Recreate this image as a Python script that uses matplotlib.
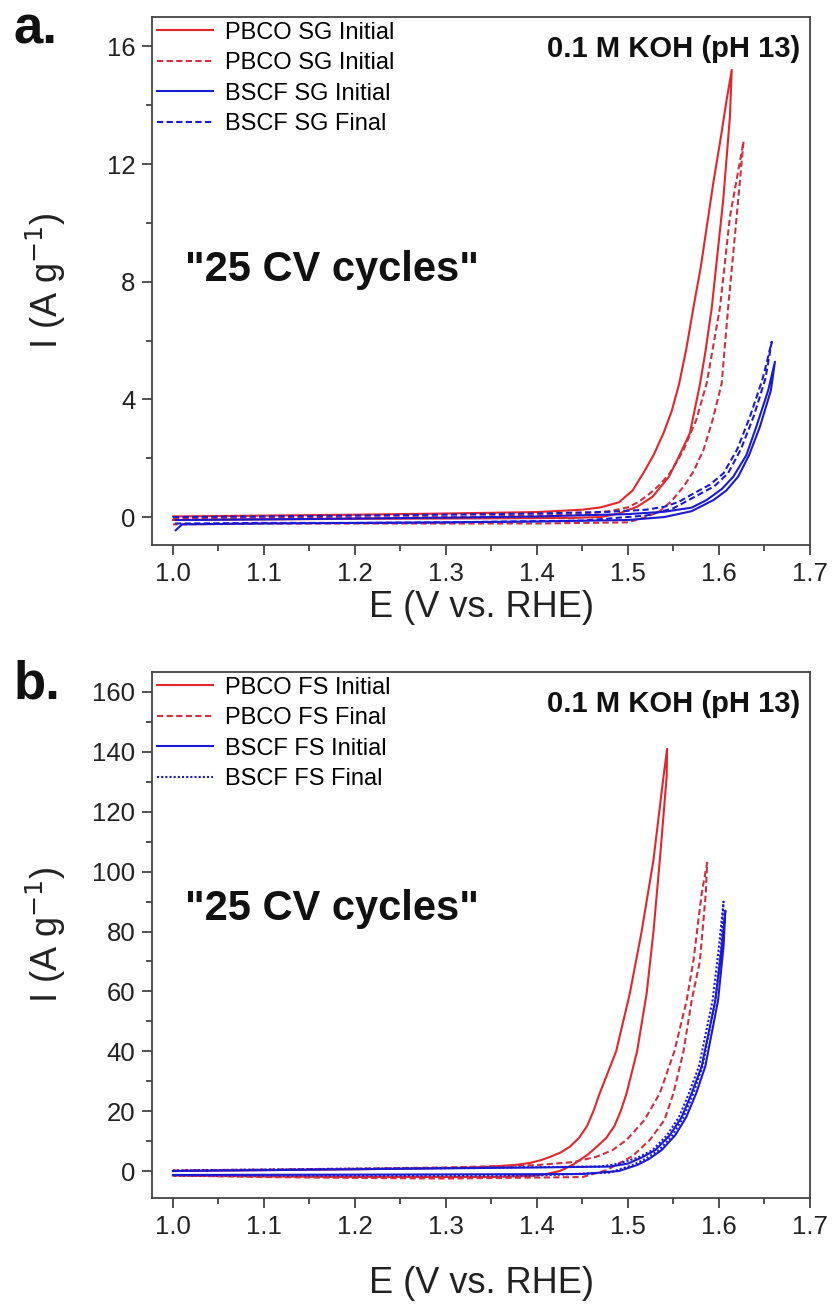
"""
Two stacked CV panels: PBCO vs BSCF, initial vs final after 25 cycles,
in 0.1 M KOH. Values read off the published figure.
"""

import matplotlib
matplotlib.use("Agg")
import matplotlib.pyplot as plt
from matplotlib.ticker import MultipleLocator, FormatStrFormatter

plt.rcParams["font.family"] = ["Liberation Sans", "DejaVu Sans"]

# ---- panel a: sol-gel (SG) samples, I in A/g ----
pbco_sg_init_E = [1.00, 1.10, 1.20, 1.30, 1.40, 1.45, 1.47, 1.49, 1.505, 1.517,
                  1.528, 1.539, 1.548, 1.556, 1.564, 1.5718, 1.58, 1.5937, 1.602,
                  1.6085, 1.614, 1.612, 1.6047, 1.592, 1.585, 1.579, 1.568,
                  1.555, 1.545, 1.527, 1.51, 1.49, 1.47, 1.44, 1.30, 1.20, 1.10,
                  1.00]
pbco_sg_init_I = [0.02, 0.05, 0.08, 0.12, 0.17, 0.25, 0.33, 0.50, 0.90, 1.50,
                  2.10, 2.85, 3.60, 4.50, 5.70, 7.10, 8.50, 11.35, 12.90,
                  14.20, 15.20, 13.60, 10.80, 7.10, 5.60, 4.50, 2.85,
                  2.00, 1.37, 0.69, 0.35, 0.12, 0.00, -0.03, -0.05, -0.06, -0.08,
                  -0.10]

pbco_sg_fin_E = [1.00, 1.10, 1.20, 1.30, 1.40, 1.45, 1.48, 1.50, 1.512, 1.524,
                 1.535, 1.545, 1.553, 1.561, 1.575, 1.5865, 1.601, 1.612, 1.627,
                 1.6194, 1.610, 1.603, 1.593, 1.583, 1.572, 1.561, 1.548, 1.535,
                 1.52, 1.50, 1.40, 1.30, 1.20, 1.10, 1.00]
pbco_sg_fin_I = [-0.05, -0.04, -0.02, 0.00, 0.05, 0.10, 0.20, 0.33, 0.52, 0.80,
                 1.10, 1.45, 1.85, 2.28, 3.30, 4.55, 7.10, 10.20, 12.77,
                 10.20, 7.10, 4.55, 3.30, 2.28, 1.55, 1.03, 0.55, 0.20,
                 0.00, -0.18, -0.22, -0.22, -0.22, -0.22, -0.25]

bscf_sg_init_E = [1.003, 1.01, 1.10, 1.20, 1.30, 1.40, 1.50, 1.54, 1.57, 1.5865,
                  1.603, 1.6157, 1.63, 1.641, 1.654, 1.6615, 1.657, 1.645, 1.633,
                  1.621, 1.608, 1.594, 1.57, 1.54, 1.50, 1.40, 1.30, 1.20, 1.10,
                  1.01, 1.003]
bscf_sg_init_I = [-0.10, -0.10, -0.08, -0.05, -0.02, 0.02, 0.10, 0.18, 0.32, 0.58,
                  0.95, 1.37, 2.10, 3.07, 4.30, 5.28, 4.30, 3.07, 2.10,
                  1.37, 0.90, 0.58, 0.20, 0.00, -0.10, -0.15, -0.18, -0.20, -0.22,
                  -0.25, -0.45]

bscf_sg_fin_E = [1.00, 1.10, 1.20, 1.30, 1.40, 1.48, 1.52, 1.54, 1.556, 1.572,
                 1.59, 1.605, 1.62, 1.634, 1.648, 1.658, 1.651, 1.638, 1.624,
                 1.61, 1.595, 1.58, 1.55, 1.52, 1.45, 1.30, 1.20, 1.10, 1.00]
bscf_sg_fin_I = [0.00, 0.02, 0.05, 0.08, 0.12, 0.18, 0.25, 0.35, 0.52, 0.80,
                 1.10, 1.49, 2.30, 3.41, 4.70, 5.96, 4.70, 3.41, 2.30,
                 1.49, 1.05, 0.80, 0.30, 0.05, -0.12, -0.18, -0.20, -0.20, -0.22]

# ---- panel b: flame-spray (FS) samples ----
pbco_fs_init_E = [1.00, 1.10, 1.20, 1.30, 1.34, 1.375, 1.392, 1.405, 1.415, 1.426,
                  1.436, 1.446, 1.455, 1.462, 1.469, 1.478, 1.487, 1.502, 1.515,
                  1.528, 1.539, 1.543, 1.5425, 1.535, 1.528, 1.5205, 1.510,
                  1.4985, 1.492, 1.485, 1.476, 1.4656, 1.456, 1.447, 1.44, 1.432,
                  1.425, 1.41, 1.395, 1.35, 1.30, 1.20, 1.10, 1.00]
pbco_fs_init_I = [0.0, 0.3, 0.6, 1.0, 1.3, 2.0, 2.7, 3.7, 4.8, 6.2,
                  8.1, 11.0, 15.0, 20.0, 26.0, 33.0, 40.0, 59.3, 80.0,
                  103.9, 131.7, 141.0, 131.7, 103.9, 80.0, 59.3, 40.0,
                  26.0, 20.0, 15.0, 11.0, 8.1, 5.5, 3.7, 2.2, 1.0,
                  0.0, -1.0, -1.6, -2.0, -2.0, -2.0, -1.8, -1.5]

pbco_fs_fin_E = [1.00, 1.10, 1.20, 1.30, 1.40, 1.44, 1.4656, 1.483, 1.4985, 1.518,
                 1.535, 1.551, 1.5645, 1.572, 1.581, 1.587, 1.5855, 1.579, 1.570,
                 1.561, 1.550, 1.540, 1.524, 1.505, 1.491, 1.4766, 1.45, 1.30,
                 1.20, 1.10, 1.00]
pbco_fs_fin_I = [0.2, 0.5, 0.8, 1.2, 2.0, 3.0, 4.8, 7.0, 10.4, 17.0,
                 26.0, 40.0, 57.0, 70.5, 92.7, 103.0, 92.7, 70.0, 57.0,
                 40.0, 26.0, 17.0, 10.4, 5.0, 2.7, 0.3, -2.0, -2.5,
                 -2.3, -2.0, -1.5]

bscf_fs_init_E = [1.00, 1.10, 1.20, 1.30, 1.40, 1.48, 1.50, 1.515, 1.530, 1.546,
                  1.559, 1.570, 1.581, 1.596, 1.603, 1.607, 1.605, 1.599, 1.585,
                  1.575, 1.564, 1.552, 1.537, 1.523, 1.51, 1.49, 1.45, 1.20, 1.00]
bscf_fs_init_I = [0.0, 0.3, 0.6, 0.9, 1.2, 1.5, 2.5, 4.5, 7.0, 12.0,
                  18.0, 26.0, 35.0, 57.0, 75.0, 87.0, 75.0, 57.0, 35.0,
                  26.0, 18.0, 12.0, 7.0, 4.0, 2.0, 0.0, -1.0, -1.2, -1.3]

bscf_fs_fin_E = [1.00, 1.10, 1.20, 1.30, 1.40, 1.47, 1.49, 1.511, 1.527, 1.543,
                 1.556, 1.567, 1.578, 1.593, 1.600, 1.605, 1.6025, 1.596, 1.582,
                 1.572, 1.561, 1.549, 1.534, 1.519, 1.505, 1.48, 1.40, 1.20, 1.00]
bscf_fs_fin_I = [0.2, 0.5, 0.8, 1.0, 1.3, 1.5, 2.5, 4.5, 7.0, 12.0,
                 18.0, 26.0, 35.0, 57.0, 75.0, 90.0, 75.0, 57.0, 35.0,
                 26.0, 18.0, 12.0, 7.0, 4.0, 2.0, -0.5, -1.5, -1.5, -1.5]

RED = "#e3262b"
RED_D = "#cf3040"
BLUE = "#1a1ad2"

panels = [
    {
        "tag": "a.",
        "curves": [
            (pbco_sg_init_E, pbco_sg_init_I, RED, "-", "PBCO SG Initial"),
            (pbco_sg_fin_E, pbco_sg_fin_I, RED_D, (0, (3, 1.6)), "PBCO SG Initial"),
            (bscf_sg_init_E, bscf_sg_init_I, BLUE, "-", "BSCF SG Initial"),
            (bscf_sg_fin_E, bscf_sg_fin_I, BLUE, (0, (3, 1.6)), "BSCF SG Final"),
        ],
        "ylim": (-0.95, 17.0), "major": 4, "minor": 2,
        "rect": [0.1823, 0.5827, 0.7889, 0.4043],
        "note_y": 0.52, "xpad": 3,
    },
    {
        "tag": "b.",
        "curves": [
            (pbco_fs_init_E, pbco_fs_init_I, RED, "-", "PBCO FS Initial"),
            (pbco_fs_fin_E, pbco_fs_fin_I, RED_D, (0, (3, 1.6)), "PBCO FS Final"),
            (bscf_fs_init_E, bscf_fs_init_I, BLUE, "-", "BSCF FS Initial"),
            (bscf_fs_fin_E, bscf_fs_fin_I, BLUE, (0, (1, 1)), "BSCF FS Final"),
        ],
        "ylim": (-9.0, 166.7), "major": 20, "minor": 10,
        "rect": [0.1823, 0.0827, 0.7889, 0.4028],
        "note_y": 0.55, "xpad": 20,
    },
]

fig = plt.figure(figsize=(8.34, 13.06), dpi=100)

for p in panels:
    ax = fig.add_axes(p["rect"])
    for E, I, color, ls, label in p["curves"]:
        ax.plot(E, I, color=color, linestyle=ls, linewidth=1.5, label=label)

    ax.set_xlim(0.977, 1.7)
    ax.set_ylim(*p["ylim"])
    ax.xaxis.set_major_locator(MultipleLocator(0.1))
    ax.xaxis.set_minor_locator(MultipleLocator(0.05))
    ax.yaxis.set_major_locator(MultipleLocator(p["major"]))
    ax.yaxis.set_minor_locator(MultipleLocator(p["minor"]))
    ax.xaxis.set_major_formatter(FormatStrFormatter("%.1f"))
    ax.tick_params(which="both", direction="out", top=False, right=False,
                   width=1.2, colors="#333333", labelcolor="#222222")
    ax.tick_params(which="major", length=7, labelsize=18.5, pad=5)
    ax.tick_params(which="minor", length=4)
    for s in ax.spines.values():
        s.set_linewidth(1.3)
        s.set_color("#444444")

    ax.set_xlabel("E (V vs. RHE)", fontsize=26, color="#222222",
                  labelpad=p["xpad"])
    ax.set_ylabel("I (A g$^{-1}$)", fontsize=26, color="#222222")
    ax.yaxis.set_label_coords(-0.128, 0.5)

    ax.legend(loc="upper left", bbox_to_anchor=(0.0, 1.0), frameon=False,
              fontsize=17, handlelength=2.4, handletextpad=0.5,
              labelspacing=0.36, borderaxespad=0.0, borderpad=0.2)

    ax.text(0.985, 0.965, "0.1 M KOH (pH 13)", transform=ax.transAxes,
            ha="right", va="top", fontsize=21, fontweight="bold", color="#111111")
    ax.text(0.05, p["note_y"], '"25 CV cycles"', transform=ax.transAxes,
            ha="left", va="center", fontsize=30, fontweight="bold", color="#111111")
    ax.text(-0.21, 0.95, p["tag"], transform=ax.transAxes, ha="left",
            va="baseline", fontsize=38, fontweight="bold", color="#111111")

fig.savefig("out.png", dpi=100)
